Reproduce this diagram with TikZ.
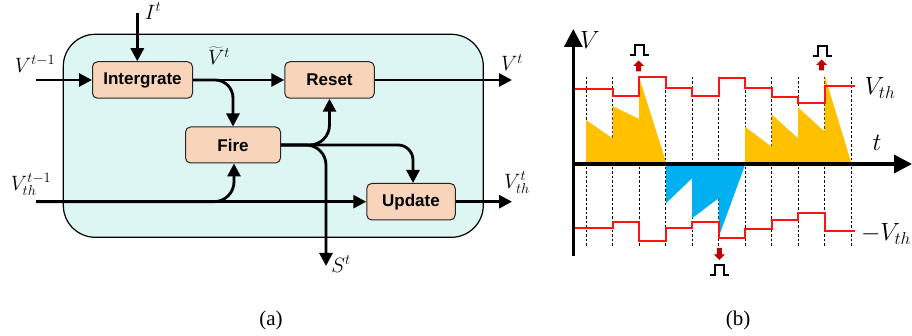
\documentclass[tikz,border=0pt]{standalone}
\usepackage[no-math]{fontspec}
\newfontfamily\boxfont{Liberation Sans}
\newfontfamily\capfont{Liberation Serif}
\usetikzlibrary{arrows.meta}
\definecolor{panelbg}{HTML}{DDF5F3}
\definecolor{boxfill}{HTML}{F8D5BA}
\definecolor{spkred}{HTML}{C00000}
\definecolor{thred}{HTML}{FF1414}
\definecolor{memyel}{HTML}{FFC000}
\definecolor{memblue}{HTML}{00B0F0}
\tikzset{
  pulse/.pic={\draw[line width=1.3pt,line join=miter] (-9.5,0) -- (-4.5,0) -- (-4.5,-10) -- (4.5,-10) -- (4.5,0) -- (9.5,0);},
  spkup/.pic={\fill[spkred] (0,0) -- (5.5,5.5) -- (2.5,5.5) -- (2.5,11) -- (-2.5,11) -- (-2.5,5.5) -- (-5.5,5.5) -- cycle;},
  spkdown/.pic={\fill[spkred] (0,0) -- (5.5,-5.5) -- (2.5,-5.5) -- (2.5,-12) -- (-2.5,-12) -- (-2.5,-5.5) -- (-5.5,-5.5) -- cycle;}
}
\begin{document}
\begin{tikzpicture}[x=1pt,y=-1pt,
  blk/.style={draw=black!85,line width=1pt,fill=boxfill,rounded corners=5pt,inner sep=0pt,
    font=\boxfont\bfseries\fontsize{17}{20}\selectfont},
  conn/.style={line width=2.8pt,-{Triangle[length=13pt,width=13pt]}},
  lbl/.style={inner sep=0pt,font=\fontsize{21}{24}\selectfont},
  rlbl/.style={inner sep=0pt,font=\fontsize{23}{27}\selectfont},
  dline/.style={line width=0.9pt,dash pattern=on 2.5pt off 2pt},
  thline/.style={draw=thred,line width=2pt},
  axis/.style={line width=3.3pt,-{Triangle[length=18pt,width=18pt]}}
]
\useasboundingbox (0,0) rectangle (912,336);

% ---------------- (a) ----------------
\node[draw=black,line width=1.2pt,fill=panelbg,rounded corners=32pt,
      minimum width=420pt,minimum height=203pt,inner sep=0pt] (cell) at (273.3,135.8) {};

\node[blk,minimum width=100pt,minimum height=36.5pt] (intg) at (142.5,80) {Intergrate};
\node[blk,minimum width=89.5pt,minimum height=36.5pt] (reset) at (329.5,80) {Reset};
\node[blk,minimum width=95pt,minimum height=36pt] (fire) at (233,145) {Fire};
\node[blk,minimum width=88.5pt,minimum height=36.5pt] (upd) at (411,201.7) {Update};

\coordinate (iIn) at (137.3,13);
\coordinate (vIn) at (36,80);
\coordinate (vthIn) at (36,201.7);
\coordinate (vOut) at (512,80);
\coordinate (vthOut) at (512,201.7);
\coordinate (sOut) at (326,266);

\draw[conn] (iIn) -- (iIn |- intg.north);
\draw[conn] (vIn) -- (intg.west);
\draw[conn] (intg.east) -- (reset.west);
\draw[conn,rounded corners=18pt] (intg.east) -| (fire.north);
\draw[conn,rounded corners=20pt] (fire.east) -| (reset.south);
\draw[conn,rounded corners=15pt] (fire.east) -| ([xshift=2pt]upd.north);
\draw[conn,rounded corners=20pt] (fire.east) -| (sOut);
\draw[conn] (vthIn) -- (upd.west);
\draw[conn,rounded corners=20pt] (vthIn) -| ([xshift=1pt]fire.south);
\draw[conn] (reset.east) -- (vOut);
\draw[conn] (upd.east) -- (vthOut);

\node[lbl] (lI) at (153,11) {$I^{t}$};
\node[lbl] (lV0) at (35,64) {$V^{t-1}$};
\node[lbl] (lVt) at (219,56) {$\widetilde{V}^{t}$};
\node[lbl] (lV1) at (512,62.5) {$V^{t}$};
\node[lbl] (lTh0) at (31,184) {$V_{th}^{t-1}$};
\node[lbl] (lTh1) at (517,182.5) {$V_{th}^{t}$};
\node[lbl] (lS) at (341,264) {$S^{t}$};

% ---------------- (b) ----------------
\foreach \i in {0,...,10}{
  \draw[dline] (586+26.5*\i,77) -- (586+26.5*\i,247);
}
\fill[memyel] (586,162) -- (586,120) -- (612.5,138.3) -- (612.5,106) -- (639,119) -- (639,77) -- (666,162) -- cycle;
\fill[memyel] (745,162) -- (745,126.7) -- (771.5,146.7) -- (771.5,114.3) -- (798,138.3) -- (798,107.3) -- (824.5,131.7) -- (824.5,75) -- (851,162) -- cycle;
\fill[memblue] (666,165) -- (666,203.3) -- (692,178.3) -- (692,218.3) -- (718.5,198.3) -- (718.5,237.5) -- (745,165) -- cycle;

\draw[thline] (574,89) -- (612.5,89) -- (612.5,95.7) -- (639,95.7) -- (639,76.7) -- (665.5,76.7)
  -- (665.5,88.3) -- (692,88.3) -- (692,95.7) -- (718.5,95.7) -- (718.5,78.3) -- (745,78.3)
  -- (745,88.3) -- (771.5,88.3) -- (771.5,97.3) -- (798,97.3) -- (798,103.3) -- (824.5,103.3)
  -- (824.5,86) -- (855,86);
\draw[thline] (574,228.3) -- (612.5,228.3) -- (612.5,221.7) -- (639,221.7) -- (639,240.7) -- (665.5,240.7)
  -- (665.5,228.3) -- (692,228.3) -- (692,221.7) -- (718.5,221.7) -- (718.5,238.3) -- (745,238.3)
  -- (745,229.3) -- (771.5,229.3) -- (771.5,220) -- (798,220) -- (798,213.3) -- (824.5,213.3)
  -- (824.5,230.7) -- (855,230.7);

\draw[axis] (573.3,256) -- (573.3,29);
\draw[axis] (571.7,164) -- (912,164);

\pic at (639.5,55) {pulse};
\pic at (638.5,60.5) {spkup};
\pic at (822.5,56) {pulse};
\pic at (821.7,59.5) {spkup};
\pic at (719.3,260) {spkdown};
\pic at (719.5,275) {pulse};

\node[rlbl,font=\fontsize{26}{30}\selectfont] (lV) at (590,40) {$V$};
\node[rlbl,font=\fontsize{28}{30}\selectfont] (lt) at (877,143) {$t$};
\node[rlbl] (lVth) at (880,88) {$V_{th}$};
\node[rlbl] (lmVth) at (886,234) {$-V_{th}$};

% captions
\node[inner sep=0pt,font=\capfont\fontsize{21}{24}\selectfont] (capa) at (271,320) {(a)};
\node[inner sep=0pt,font=\capfont\fontsize{21}{24}\selectfont] (capb) at (738,320) {(b)};
\end{tikzpicture}
\end{document}
